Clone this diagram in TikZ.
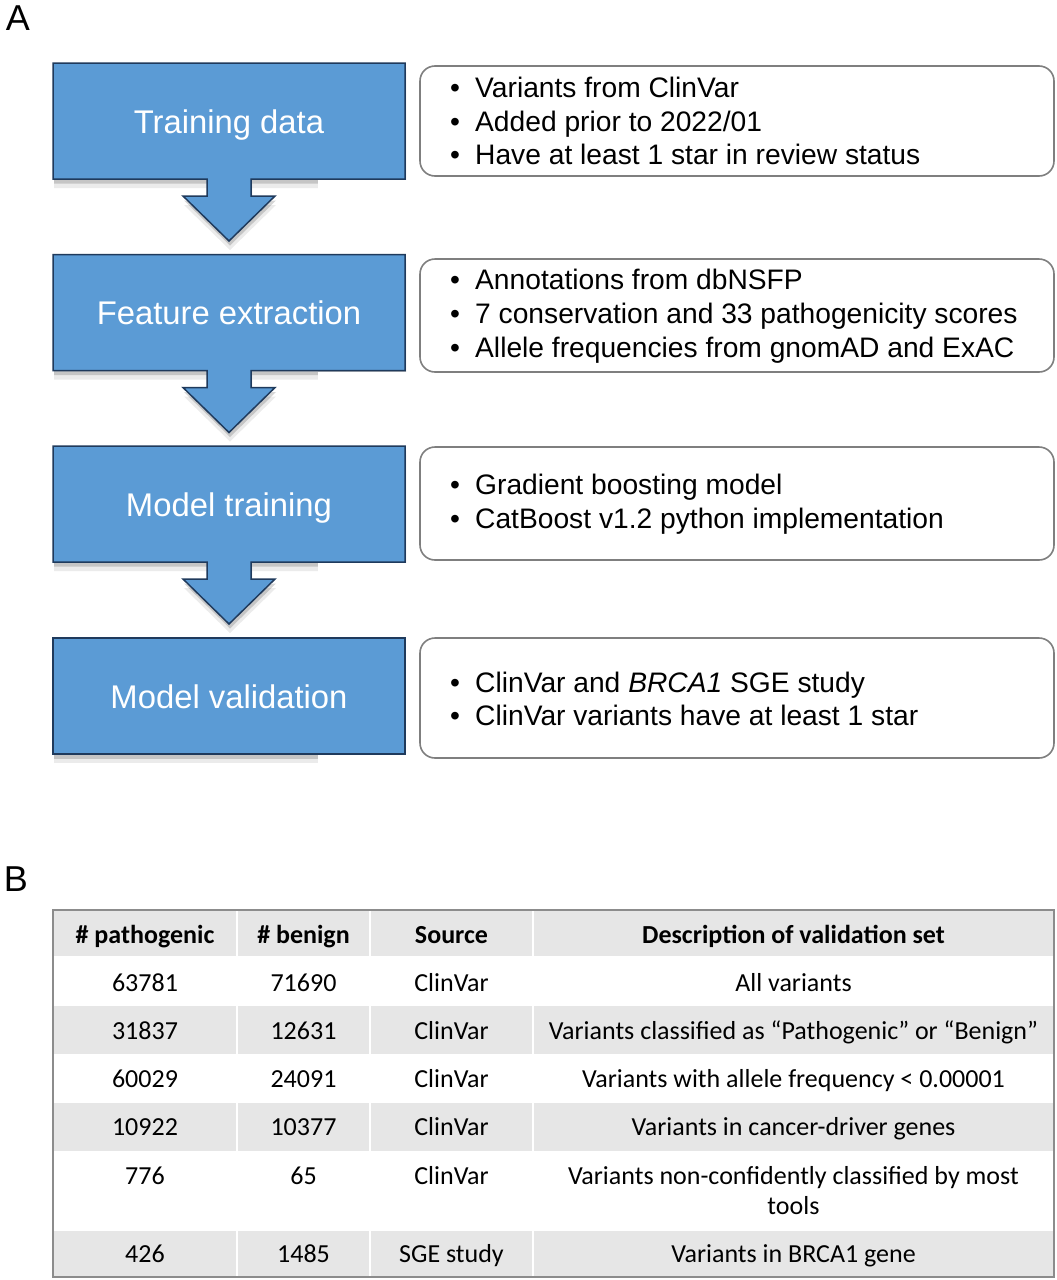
\documentclass[tikz,border=0pt]{standalone}
\usepackage{fontspec}
\setmainfont{Liberation Sans}
\newfontfamily\calfont{Carlito}
\definecolor{boxblue}{HTML}{5B9BD5}
\definecolor{boxedge}{HTML}{1F3A5C}
\definecolor{roundedge}{HTML}{7F7F7F}
\definecolor{rowgray}{HTML}{E6E6E6}
\definecolor{tabedge}{HTML}{8C8C8C}
\newcommand\stagepath{(53,0) -- (405,0) -- (405,116) -- (251,116) -- (251,133) -- (275,133) -- (229,178) -- (183,133) -- (207,133) -- (207,116) -- (53,116) -- cycle}
\newcommand\lastpath{(53,0) rectangle (405,116)}
\newcommand\bul[1]{\makebox[25pt][l]{•}#1}
\tikzset{
  stagefill/.style={fill=boxblue, draw=boxedge, line width=1.5pt, line join=miter},
  stagetext/.style={text=white, font=\fontsize{32.8}{39}\selectfont, inner sep=0pt, anchor=base},
  infobox/.style={draw=roundedge, line width=1.6pt, rounded corners=15pt, fill=white},
  infotext/.style={anchor=west, align=left, inner sep=0pt, font=\fontsize{28.2}{33.8}\selectfont},
  panel/.style={font=\fontsize{36}{40}\selectfont, inner sep=0pt},
  headcell/.style={font=\calfont\bfseries\fontsize{26}{30}\selectfont, inner sep=0pt, anchor=base},
  bodycell/.style={font=\calfont\fontsize{26}{30}\selectfont, inner sep=0pt, align=center, anchor=base},
}
\begin{document}
\begin{tikzpicture}[x=1pt,y=-1pt]
\useasboundingbox (0,0) rectangle (1057,1280);
\fill[white] (0,0) rectangle (1057,1280);

\node[panel] (labA) at (18,18) {A};
\node[panel] (labB) at (16,879) {B};

% stages
\foreach \T/\nm/\txt/\arr in {63/train/Training data/1, 254.5/feat/Feature extraction/1, 446/model/Model training/1, 638/valid/Model validation/0}{
  \begin{scope}[shift={(0,\T)}]
    \ifnum\arr=1
      \fill[black, opacity=.08] [shift={(1,9)}] \stagepath;
      \fill[black, opacity=.16] [shift={(1,4.5)}] \stagepath;
      \fill[white] (318,117) rectangle (412,128);
      \draw[stagefill] \stagepath;
    \else
      \fill[black, opacity=.08] [shift={(1,9)}] \lastpath;
      \fill[black, opacity=.16] [shift={(1,4.5)}] \lastpath;
      \fill[white] (318,117) rectangle (412,128);
      \draw[stagefill] \lastpath;
    \fi
    \node[stagetext] (\nm) at (229,70) {\txt};
  \end{scope}
}

% info boxes
\draw[infobox] (420,66) rectangle (1054,176);
\node[infotext] (info1) at (450,121) {\bul{Variants from ClinVar}\\\bul{Added prior to 2022/01}\\\bul{Have at least 1 star in review status}};
\draw[infobox] (420,259) rectangle (1054,372);
\node[infotext] (info2) at (450,316) {\bul{Annotations from dbNSFP}\\\bul{7 conservation and 33 pathogenicity scores}\\\bul{Allele frequencies from gnomAD and ExAC}};
\draw[infobox] (420,447) rectangle (1054,560);
\node[infotext] (info3) at (450,504) {\bul{Gradient boosting model}\\\bul{CatBoost v1.2 python implementation}};
\draw[infobox] (420,638) rectangle (1054,758);
\node[infotext] (info4) at (450,699) {\bul{ClinVar and \textit{BRCA1} SGE study}\\\bul{ClinVar variants have at least 1 star}};

% table
\fill[rowgray] (53,910) rectangle (1054,956);
\fill[rowgray] (53,1006) rectangle (1054,1054);
\fill[rowgray] (53,1103) rectangle (1054,1151);
\fill[rowgray] (53,1231) rectangle (1054,1277);
\foreach \cx in {237,370,533}{
  \draw[white, line width=2.7pt] (\cx,910) -- (\cx,1277);
}
\draw[white, line width=2pt] (53,1005) -- (1054,1005);
\draw[white, line width=2pt] (53,1055) -- (1054,1055);
\draw[white, line width=2pt] (53,1102) -- (1054,1102);
\draw[white, line width=2pt] (53,1152) -- (1054,1152);
\draw[white, line width=2pt] (53,1230) -- (1054,1230);
\draw[tabedge, line width=1.5pt] (53,910) rectangle (1054,1277);

\node[headcell] (h1) at (145,943) {\# pathogenic};
\node[headcell] (h2) at (303.5,943) {\# benign};
\node[headcell] (h3) at (451.5,943) {Source};
\node[headcell] (h4) at (793.5,943) {Description of validation set};

\foreach \y/\rn/\a/\b/\c/\d in {
  991.5/r1/63781/71690/ClinVar/All variants,
  1039.5/r2/31837/12631/ClinVar/Variants classified as “Pathogenic” or “Benign”,
  1087.5/r3/60029/24091/ClinVar/Variants with allele frequency < 0.00001,
  1135.5/r4/10922/10377/ClinVar/Variants in cancer-driver genes,
  1262.5/r6/426/1485/SGE study/Variants in BRCA1 gene}{
  \node[bodycell] (\rn c1) at (145,\y) {\a};
  \node[bodycell] (\rn c2) at (303.5,\y) {\b};
  \node[bodycell] (\rn c3) at (451.5,\y) {\c};
  \node[bodycell] (\rn c4) at (793.5,\y) {\d};
}
\node[bodycell] (r5c1) at (145,1184.5) {776};
\node[bodycell] (r5c2) at (303.5,1184.5) {65};
\node[bodycell] (r5c3) at (451.5,1184.5) {ClinVar};
\node[bodycell] (r5c4) at (793.5,1214.5) {Variants non-confidently classified by most\\tools};
\end{tikzpicture}
\end{document}
